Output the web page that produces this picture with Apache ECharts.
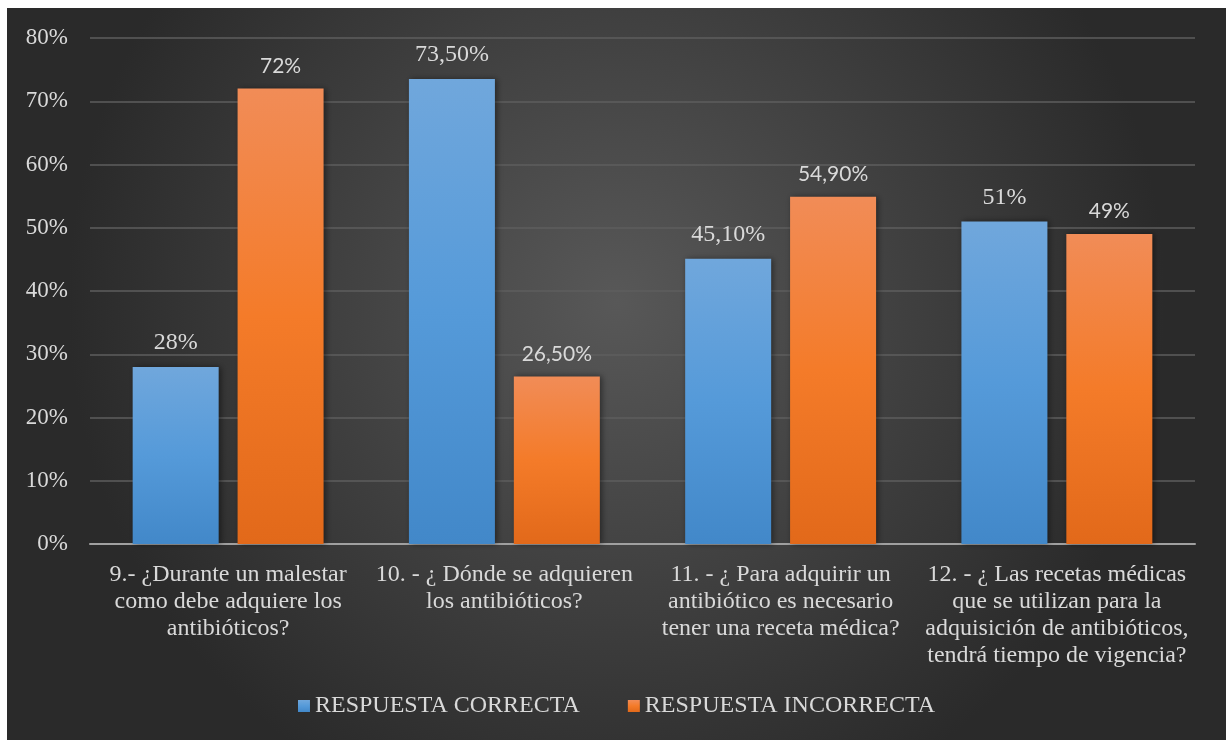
<!DOCTYPE html>
<html>
<head>
<meta charset="utf-8">
<script src="https://cdn.jsdelivr.net/npm/echarts@6/dist/echarts.min.js"></script>
<style>
html,body{margin:0;padding:0;background:#ffffff;width:1226px;height:740px;overflow:hidden;}
#c{position:absolute;left:7px;top:8px;width:1219px;height:732px;}
</style>
</head>
<body>
<div id="c"></div>
<script>
const categories = [
  "9.- ¿Durante un malestar\ncomo debe adquiere los\nantibióticos?",
  "10. - ¿ Dónde se adquieren\nlos antibióticos?",
  "11. - ¿ Para adquirir un\nantibiótico es necesario\ntener una receta médica?",
  "12. - ¿ Las recetas médicas\nque se utilizan para la\nadquisición de antibióticos,\ntendrá tiempo de vigencia?"
];
const correcta = [28, 73.5, 45.1, 51];
const incorrecta = [72, 26.5, 54.9, 49];
const seriesNames = ["RESPUESTA CORRECTA", "RESPUESTA INCORRECTA"];
const yTicks = { min: 0, max: 80, interval: 10 };

function fmt(v) {
  return Number.isInteger(v) ? v + '%' : v.toFixed(2).replace('.', ',') + '%';
}
const blueGrad = new echarts.graphic.LinearGradient(0, 0, 0, 1, [
  {offset: 0, color: '#70a7dc'},
  {offset: 0.5, color: '#559ad9'},
  {offset: 1, color: '#4288c9'}
]);
const orangeGrad = new echarts.graphic.LinearGradient(0, 0, 0, 1, [
  {offset: 0, color: '#f18c57'},
  {offset: 0.5, color: '#f47b29'},
  {offset: 1, color: '#e2691a'}
]);
const chart = echarts.init(document.getElementById('c'));
chart.setOption({
  backgroundColor: new echarts.graphic.RadialGradient(0.5, 0.4, 0.75, [
    {offset: 0, color: '#585858'},
    {offset: 1, color: '#2a2a2a'}
  ]),
  animation: false,
  grid: {left: 83, right: 31, top: 30, bottom: 196, containLabel: false},
  legend: {
    bottom: 17,
    left: 'center',
    itemWidth: 12, itemHeight: 12, itemGap: 48,
    icon: 'rect',
    textStyle: {color: '#d9d9d9', fontFamily: 'Liberation Serif', fontSize: 24, padding: [0,0,0,0]},
    data: seriesNames
  },
  xAxis: {
    type: 'category',
    data: categories,
    axisLine: {lineStyle: {color: '#a0a0a0', width: 2}},
    axisTick: {show: false},
    axisLabel: {color: '#d9d9d9', fontFamily: 'Liberation Serif', fontSize: 24, lineHeight: 27, margin: 17, interval: 0}
  },
  yAxis: {
    type: 'value',
    min: yTicks.min, max: yTicks.max, interval: yTicks.interval,
    axisLine: {show: false},
    axisTick: {show: false},
    axisLabel: {color: '#d9d9d9', fontFamily: 'Liberation Serif', fontSize: 23, margin: 22, formatter: v => v + '%'},
    splitLine: {lineStyle: {color: '#5e5e5e', width: 1.5}}
  },
  series: [
    {
      name: seriesNames[0], type: 'bar', data: correcta,
      barWidth: 86, barGap: '22%',
      itemStyle: {color: blueGrad, shadowColor: 'rgba(0,0,0,0.45)', shadowBlur: 6, shadowOffsetX: 2, shadowOffsetY: 0},
      label: {show: true, position: 'top', distance: 12, color: '#d9d9d9', fontFamily: 'Liberation Serif', fontSize: 24, formatter: p => fmt(p.value)}
    },
    {
      name: seriesNames[1], type: 'bar', data: incorrecta,
      barWidth: 86,
      itemStyle: {color: orangeGrad, shadowColor: 'rgba(0,0,0,0.45)', shadowBlur: 6, shadowOffsetX: 2, shadowOffsetY: 0},
      label: {show: true, position: 'top', distance: 12, color: '#d9d9d9', fontFamily: 'Lato', fontSize: 21, formatter: p => fmt(p.value)}
    }
  ]
});
</script>
</body>
</html>
